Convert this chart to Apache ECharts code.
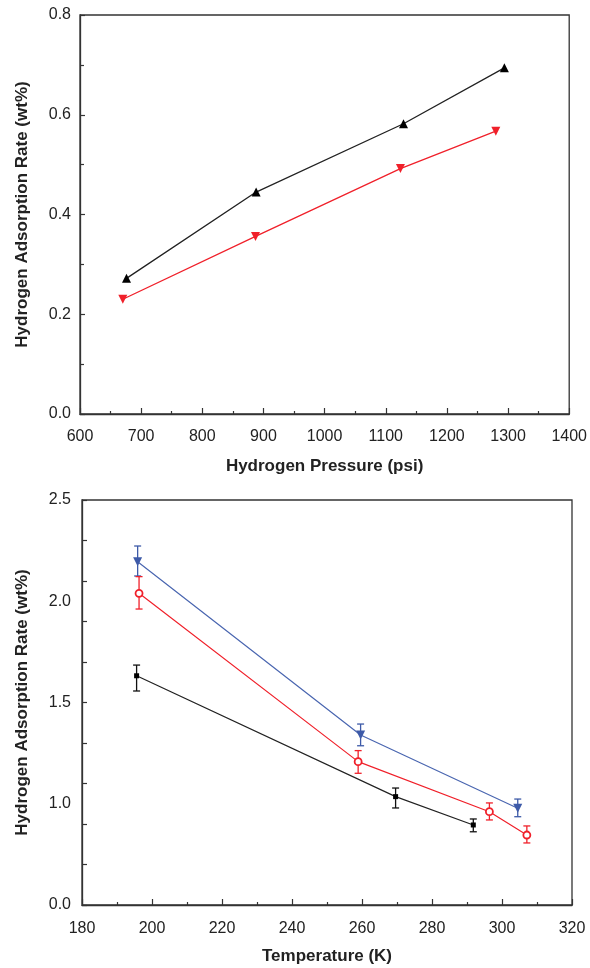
<!DOCTYPE html>
<html>
<head>
<meta charset="utf-8">
<script src="https://cdn.jsdelivr.net/npm/echarts@6/dist/echarts.min.js"></script>
<style>html,body{margin:0;padding:0;background:#fff;}#c{width:590px;height:968px;}</style>
</head>
<body>
<div id="c"></div>
<script>
// ---- Top chart: hydrogen pressure (psi) vs adsorption rate ----
const pressureBlack = [676, 888, 1129, 1294];
const rateBlack     = [0.272, 0.445, 0.582, 0.694];
const pressureRed   = [670, 887, 1124, 1280];
const rateRed       = [0.230, 0.356, 0.492, 0.567];

// ---- Bottom chart: temperature (K) vs adsorption rate ----
const tempBlue  = [195.9, 259.6, 304.5];
const rateBlue  = [2.119, 1.049, 0.597];
const lowBlue   = [2.031, 0.983, 0.545];
const highBlue  = [2.216, 1.117, 0.654];

const tempRed   = [196.3, 258.9, 296.4, 307.1];
const rateRed2  = [1.924, 0.885, 0.576, 0.432];
const lowRed    = [1.827, 0.813, 0.525, 0.383];
const highRed   = [2.027, 0.953, 0.630, 0.488];

const tempBlack = [195.6, 269.6, 291.8];
const rateBlack2= [1.415, 0.669, 0.494];
const lowBlack  = [1.321, 0.599, 0.452];
const highBlack = [1.481, 0.722, 0.531];

// tick labels of the bottom y axis as printed in the figure
const yLabelsBottom = ['0.0', '1.0', '1.5', '2.0', '2.5'];

const FONT = '"Liberation Sans", Arial, Helvetica, sans-serif';
const zip = (a, b) => a.map((v, i) => [v, b[i]]);
const zip3 = (a, b, c) => a.map((v, i) => [v, b[i], c[i]]);

function errSeries(x, lo, hi, color) {
  return {
    type: 'custom', xAxisIndex: 1, yAxisIndex: 2, z: 1,
    data: zip3(x, lo, hi),
    renderItem: function (params, api) {
      const p1 = api.coord([api.value(0), api.value(1)]);
      const p2 = api.coord([api.value(0), api.value(2)]);
      const w = 3.5;
      const st = { stroke: color, lineWidth: 1.3 };
      return { type: 'group', children: [
        { type: 'line', shape: { x1: p1[0], y1: p1[1], x2: p2[0], y2: p2[1] }, style: st },
        { type: 'line', shape: { x1: p1[0] - w, y1: p1[1], x2: p1[0] + w, y2: p1[1] }, style: st },
        { type: 'line', shape: { x1: p2[0] - w, y1: p2[1], x2: p2[0] + w, y2: p2[1] }, style: st }
      ]};
    }
  };
}

const axisLine = { show: true, onZero: false, lineStyle: { color: '#333', width: 1.3 } };
const labelStyle = { color: '#222', fontSize: 16, fontFamily: FONT };
const nameStyle = { color: '#222', fontSize: 17, fontWeight: 'bold', fontFamily: FONT };

const chart = echarts.init(document.getElementById('c'), null, { renderer: 'canvas' });
chart.setOption({
  animation: false,
  backgroundColor: '#fff',
  grid: [
    { left: 80, top: 15, width: 491, height: 399, show: true, borderColor: '#333', borderWidth: 1.3, containLabel: false },
    { left: 82, top: 500, width: 490, height: 405, show: true, borderColor: '#333', borderWidth: 1.3, containLabel: false }
  ],
  xAxis: [
    {
      gridIndex: 0, type: 'value', min: 600, max: 1400, interval: 100,
      name: 'Hydrogen Pressure (psi)', nameLocation: 'middle', nameGap: 44, nameTextStyle: nameStyle,
      axisLine: axisLine,
      axisTick: { show: true, inside: true, length: 6, lineStyle: { color: '#333', width: 1.2 } },
      minorTick: { show: true, splitNumber: 2, length: 3, lineStyle: { color: '#333', width: 1.2 } },
      axisLabel: Object.assign({ margin: 15, formatter: v => String(v) }, labelStyle),
      splitLine: { show: false }
    },
    {
      gridIndex: 1, type: 'value', min: 180, max: 320, interval: 20,
      name: 'Temperature (K)', nameLocation: 'middle', nameGap: 43, nameTextStyle: nameStyle,
      axisLine: axisLine,
      axisTick: { show: true, inside: true, length: 6, lineStyle: { color: '#333', width: 1.2 } },
      minorTick: { show: true, splitNumber: 2, length: 3, lineStyle: { color: '#333', width: 1.2 } },
      axisLabel: Object.assign({ margin: 16, formatter: v => String(v) }, labelStyle),
      splitLine: { show: false }
    }
  ],
  yAxis: [
    {
      gridIndex: 0, type: 'value', min: 0, max: 0.8, interval: 0.2,
      name: 'Hydrogen Adsorption Rate (wt%)', nameLocation: 'middle', nameRotate: 90, nameGap: 49, nameTextStyle: nameStyle,
      axisLine: axisLine,
      axisTick: { show: true, inside: true, length: 5, lineStyle: { color: '#333', width: 1.2 } },
      minorTick: { show: true, splitNumber: 2, length: 4, lineStyle: { color: '#333', width: 1.2 } },
      axisLabel: Object.assign({ margin: 9, formatter: v => v.toFixed(1) }, labelStyle),
      splitLine: { show: false }
    },
    {
      gridIndex: 1, type: 'value', min: 0, max: 2.5, interval: 0.25,
      axisLine: axisLine,
      axisTick: { show: true, inside: true, length: 5, lineStyle: { color: '#333', width: 1.2 } },
      axisLabel: { show: false },
      splitLine: { show: false }
    },
    {
      gridIndex: 1, type: 'value', min: 0, max: 2.5, interval: 0.625, position: 'left',
      name: 'Hydrogen Adsorption Rate (wt%)', nameLocation: 'middle', nameRotate: 90, nameGap: 51, nameTextStyle: nameStyle,
      axisLine: { show: false },
      axisTick: { show: false },
      axisLabel: Object.assign({ margin: 11, formatter: (v, i) => yLabelsBottom[i] }, labelStyle),
      splitLine: { show: false }
    }
  ],
  series: [
    {
      type: 'line', xAxisIndex: 0, yAxisIndex: 0, data: zip(pressureBlack, rateBlack),
      symbol: 'triangle', symbolSize: 9, itemStyle: { color: '#000' },
      lineStyle: { color: '#222', width: 1.3 }, z: 3
    },
    {
      type: 'line', xAxisIndex: 0, yAxisIndex: 0, data: zip(pressureRed, rateRed),
      symbol: 'triangle', symbolRotate: 180, symbolSize: 9, itemStyle: { color: '#f0202a' },
      lineStyle: { color: '#f0202a', width: 1.3 }, z: 3
    },
    errSeries(tempBlue, lowBlue, highBlue, '#3d5aa8'),
    errSeries(tempRed, lowRed, highRed, '#f0202a'),
    errSeries(tempBlack, lowBlack, highBlack, '#111'),
    {
      type: 'line', xAxisIndex: 1, yAxisIndex: 1, data: zip(tempBlue, rateBlue),
      symbol: 'triangle', symbolRotate: 180, symbolSize: 9, itemStyle: { color: '#3d5aa8' },
      lineStyle: { color: '#4a66b0', width: 1.2 }, z: 3
    },
    {
      type: 'line', xAxisIndex: 1, yAxisIndex: 1, data: zip(tempRed, rateRed2),
      symbol: 'circle', symbolSize: 7, itemStyle: { color: '#fff', borderColor: '#f0202a', borderWidth: 1.8 },
      lineStyle: { color: '#f0202a', width: 1.2 }, z: 3
    },
    {
      type: 'line', xAxisIndex: 1, yAxisIndex: 1, data: zip(tempBlack, rateBlack2),
      symbol: 'rect', symbolSize: 5, itemStyle: { color: '#000' },
      lineStyle: { color: '#222', width: 1.2 }, z: 3
    }
  ]
});
</script>
</body>
</html>
